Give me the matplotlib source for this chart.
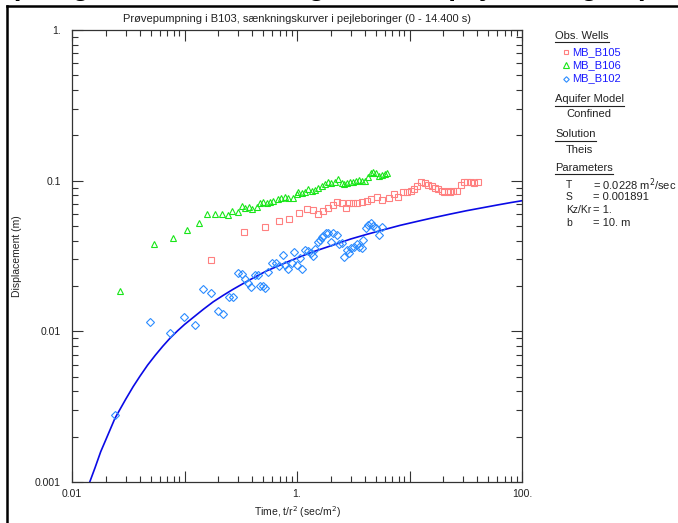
import matplotlib
matplotlib.use("Agg")
import matplotlib.pyplot as plt
from matplotlib.lines import Line2D
from matplotlib.ticker import FixedLocator, FixedFormatter, LogLocator, NullFormatter

plt.rcParams['font.family'] = ['Liberation Sans', 'DejaVu Sans']

# Observation well data: time t/r^2 (sec/m^2) and displacement (m)
b105_t = [0.172, 0.340, 0.520, 0.692, 0.855, 1.04, 1.22, 1.38, 1.55, 1.71, 1.90, 2.08,
          2.25, 2.50, 2.73, 2.92, 3.16, 3.44, 3.76, 4.17, 4.57, 5.11, 5.72, 6.57, 7.32,
          7.85, 8.71, 9.44, 10.3, 11.0, 11.6, 12.6, 13.7, 14.7, 15.7, 16.9, 18.0, 19.3,
          20.4, 21.9, 22.9, 24.5, 26.6, 28.7, 30.5, 32.7, 35.0, 37.4, 40.4]
b105_s = [0.0296, 0.0458, 0.0493, 0.0543, 0.0554, 0.0607, 0.0646, 0.0639, 0.0601, 0.0632,
          0.0656, 0.0690, 0.0718, 0.0708, 0.0662, 0.0714, 0.0714, 0.0708, 0.0725, 0.0736,
          0.0756, 0.0783, 0.0744, 0.0767, 0.0812, 0.0783, 0.0837, 0.0845, 0.0858, 0.0881,
          0.0922, 0.0975, 0.0961, 0.0936, 0.0922, 0.0898, 0.0877, 0.0858, 0.0845, 0.0858,
          0.0837, 0.0858, 0.0858, 0.0936, 0.0975, 0.0985, 0.0985, 0.0961, 0.0985]

b106_t = [0.0267, 0.0536, 0.0794, 0.105, 0.135, 0.160, 0.187, 0.214, 0.242, 0.266, 0.296,
          0.322, 0.348, 0.376, 0.402, 0.439, 0.466, 0.501, 0.538, 0.575, 0.615, 0.673,
          0.721, 0.782, 0.838, 0.917, 0.993, 1.03, 1.10, 1.18, 1.26, 1.35, 1.45, 1.55,
          1.66, 1.77, 1.90, 2.01, 2.18, 2.33, 2.50, 2.63, 2.77, 2.96, 3.16, 3.34, 3.58,
          3.76, 4.02, 4.30, 4.52, 4.77, 5.04, 5.39, 5.66, 6.05, 6.27]
b106_s = [0.0185, 0.0380, 0.0418, 0.0471, 0.0526, 0.0598, 0.0605, 0.0605, 0.0592, 0.0629,
          0.0619, 0.0682, 0.0656, 0.0672, 0.0646, 0.0672, 0.0708, 0.0718, 0.0708, 0.0718,
          0.0736, 0.0752, 0.0764, 0.0783, 0.0771, 0.0771, 0.0812, 0.0845, 0.0832, 0.0845,
          0.0877, 0.0858, 0.0867, 0.0898, 0.0922, 0.0946, 0.0975, 0.0961, 0.0985, 0.102,
          0.0961, 0.0946, 0.0961, 0.0985, 0.0975, 0.100, 0.101, 0.100, 0.100, 0.106,
          0.112, 0.115, 0.112, 0.107, 0.109, 0.111, 0.112]

b102_t = [0.0241, 0.0493, 0.0743, 0.0991, 0.124, 0.147, 0.172, 0.200, 0.221, 0.249, 0.272,
          0.297, 0.322, 0.348, 0.366, 0.390, 0.424, 0.453, 0.469, 0.501, 0.520, 0.556,
          0.596, 0.650, 0.697, 0.746, 0.782, 0.838, 0.898, 0.946, 0.993, 1.06, 1.10,
          1.18, 1.26, 1.33, 1.40, 1.45, 1.55, 1.60, 1.66, 1.71, 1.81, 1.90, 2.01, 2.10,
          2.25, 2.38, 2.50, 2.63, 2.77, 2.92, 3.02, 3.21, 3.40, 3.58, 3.76, 3.90, 4.10,
          4.30, 4.52, 4.71, 5.07, 5.41, 5.75]
b102_s = [0.00280, 0.0115, 0.00970, 0.0125, 0.0111, 0.0191, 0.0179, 0.0137, 0.0130, 0.0170,
          0.0170, 0.0243, 0.0240, 0.0221, 0.0208, 0.0196, 0.0237, 0.0237, 0.0200, 0.0200,
          0.0193, 0.0249, 0.0283, 0.0283, 0.0272, 0.0321, 0.0276, 0.0258, 0.0283, 0.0338,
          0.0276, 0.0305, 0.0259, 0.0347, 0.0341, 0.0330, 0.0316, 0.0350, 0.0394, 0.0404,
          0.0421, 0.0431, 0.0448, 0.0448, 0.0394, 0.0448, 0.0436, 0.0378, 0.0384, 0.0313,
          0.0347, 0.0330, 0.0356, 0.0365, 0.0378, 0.0365, 0.0359, 0.0404, 0.0483, 0.0508,
          0.0526, 0.0500, 0.0483, 0.0436, 0.0490]

# Theis type curve (T = 0.0228 m2/sec, S = 0.001891)
theis_t = [0.0120, 0.0130, 0.01445, 0.016, 0.018, 0.020, 0.0241, 0.030, 0.035, 0.0402,
           0.047, 0.055, 0.064, 0.0743, 0.087, 0.100, 0.125, 0.147, 0.18, 0.22, 0.27,
           0.357, 0.45, 0.538, 0.70, 0.85, 1.06, 1.4, 2.1, 3.0, 4.16, 6.0, 8.24, 12.0,
           16.0, 23.0, 32.2, 45.0, 60.0, 80.0, 100.0]
theis_s = [0.00068, 0.00082, 0.00101, 0.00124, 0.00159, 0.00191, 0.00265, 0.00354, 0.00430,
           0.00504, 0.00597, 0.00694, 0.00795, 0.0090, 0.0101, 0.0111, 0.0127, 0.0140, 0.0157,
           0.0173, 0.0190, 0.0214, 0.0235, 0.0252, 0.0274, 0.0292, 0.0312, 0.0338, 0.0374,
           0.0410, 0.0440, 0.0474, 0.0505, 0.0539, 0.0566, 0.0600, 0.0632, 0.0662, 0.0689,
           0.0716, 0.0736]

wells = ["MB_B105", "MB_B106", "MB_B102"]
params = [("T", "= 0.0228 m$^2$/sec"), ("S", "= 0.001891"), ("Kz/Kr", "= 1."), ("b", "= 10. m")]

x_major = [0.01, 0.1, 1.0, 10.0, 100.0]
x_labels = ["0.01", "", "1.", "", "100."]
y_major = [0.001, 0.01, 0.1, 1.0]
y_labels = ["0.001", "0.01", "0.1", "1."]

W, H = 678, 523
fig = plt.figure(figsize=(W / 100, H / 100), dpi=100)
ax = fig.add_axes([72 / W, 1 - 482 / H, 450 / W, 452 / H])

c_sq, c_tri, c_dia, c_line = "#ff8080", "#19e619", "#2b8cff", "#0a0ae6"
ax.plot(theis_t, theis_s, color=c_line, lw=1.2, zorder=2)
ax.plot(b105_t, b105_s, ls="none", marker="s", ms=5, mfc="none", mec=c_sq, mew=0.8, zorder=3)
ax.plot(b106_t, b106_s, ls="none", marker="^", ms=5, mfc="none", mec=c_tri, mew=0.8, zorder=3)
ax.plot(b102_t, b102_s, ls="none", marker="D", ms=3.8, mfc="none", mec=c_dia, mew=0.8, zorder=3)

ax.set_xscale("log")
ax.set_yscale("log")
ax.set_xlim(0.01, 100)
ax.set_ylim(0.001, 1)
ax.xaxis.set_major_locator(FixedLocator(x_major))
ax.xaxis.set_major_formatter(FixedFormatter(x_labels))
ax.yaxis.set_major_locator(FixedLocator(y_major))
ax.yaxis.set_major_formatter(FixedFormatter(y_labels))
for axis in (ax.xaxis, ax.yaxis):
    axis.set_minor_locator(LogLocator(base=10, subs=range(2, 10)))
    axis.set_minor_formatter(NullFormatter())
ax.tick_params(which="both", direction="in", top=True, right=True, labelsize=7.5,
               colors="#333333", labelcolor="#222222", width=0.8)
ax.tick_params(which="major", length=8)
ax.tick_params(which="minor", length=4)
ax.tick_params(axis="x", which="major", pad=5)
ax.tick_params(axis="y", which="major", pad=8)
for sp in ax.spines.values():
    sp.set_color("#333333")
    sp.set_linewidth(0.9)

ax.set_xlabel("Time, t/r$^2$ (sec/m$^2$)", fontsize=7.5, labelpad=4, color="#222222")
ax.set_ylabel("Displacement (m)", fontsize=7.5, labelpad=9, color="#222222")
fig.text(297 / W, 1 - 19 / H, "Prøvepumpning i B103, sænkningskurver i pejleboringer (0 - 14.400 s)",
         ha="center", va="center", fontsize=8, color="#222222")

# Clipped heading and frame of the page
fig.text(300 / W, 1 + 12 / H, "1), Prøvepumpning i B103, sænkningskurver i pejleboringer, pumpetid",
         ha="center", va="center", fontsize=20, fontweight="bold", color="black")
fig.add_artist(Line2D([7 / W, 7 / W], [0, 1 - 6 / H], color="black", lw=1.8))
fig.add_artist(Line2D([7 / W, 1], [1 - 6 / H, 1 - 6 / H], color="black", lw=1.8))

# Side panel
fig.canvas.draw()
renderer = fig.canvas.get_renderer()
fs_panel = 8


def heading(x, y, s):
    t = fig.text(x / W, 1 - y / H, s, ha="left", va="center", fontsize=fs_panel, color="#222222")
    bb = t.get_window_extent(renderer)
    yl = 1 - (y + 6.5) / H
    fig.add_artist(Line2D([bb.x0 / W, bb.x1 / W], [yl, yl], color="#222222", lw=0.8))


heading(555, 36, "Obs. Wells")
markers = [("s", c_sq, 3.5), ("^", c_tri, 3.8), ("D", c_dia, 2.8)]
for i, name in enumerate(wells):
    y = 52 + 13.3 * i
    m, c, ms = markers[i]
    fig.add_artist(Line2D([565.5 / W], [1 - y / H], ls="none", marker=m, ms=ms, mfc="none",
                          mec=c, mew=0.8))
    fig.text(572 / W, 1 - y / H, name, ha="left", va="center", fontsize=fs_panel, color="#1a1aff")

heading(555, 99, "Aquifer Model")
fig.text(566 / W, 1 - 114 / H, "Confined", ha="left", va="center", fontsize=fs_panel, color="#222222")
heading(555, 134, "Solution")
fig.text(566 / W, 1 - 150 / H, "Theis", ha="left", va="center", fontsize=fs_panel, color="#222222")
heading(555, 168, "Parameters")
for i, (k, v) in enumerate(params):
    y = 185 + 12.5 * i
    fig.text(566 / W, 1 - y / H, k, ha="left", va="center", fontsize=7.5, color="#222222")
    fig.text(593 / W, 1 - y / H, v, ha="left", va="center", fontsize=fs_panel, color="#222222")

fig.savefig("out.png", dpi=100)
